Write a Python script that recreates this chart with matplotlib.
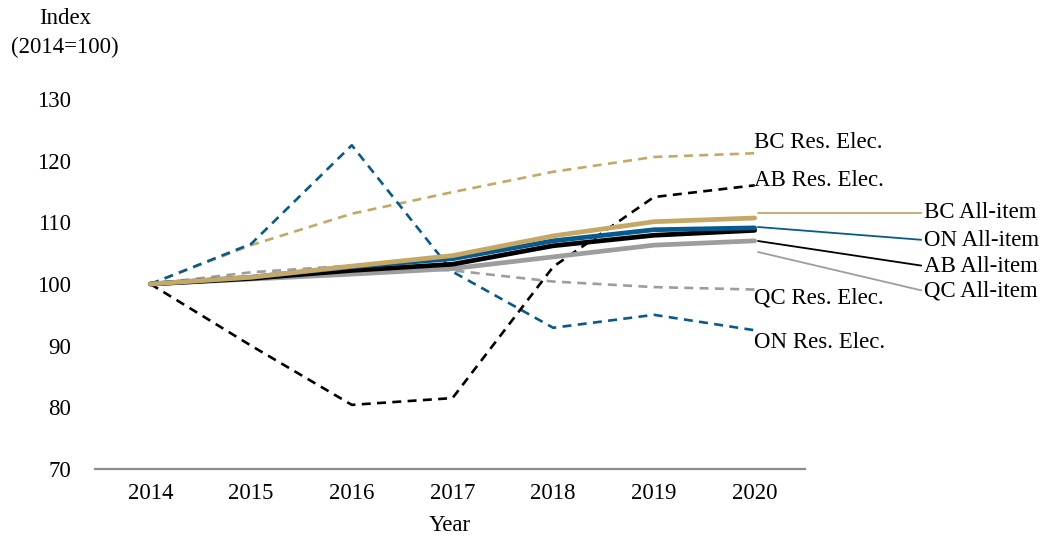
import matplotlib
matplotlib.use("Agg")
import matplotlib.pyplot as plt

# data (index, 2014=100)
years = [2014, 2015, 2016, 2017, 2018, 2019, 2020]
bc_res = [100, 106.3, 111.4, 114.9, 118.2, 120.6, 121.2]
ab_res = [100, 90.0, 80.4, 81.5, 102.8, 114.1, 116.0]
on_res = [100, 106.5, 122.5, 102.0, 92.9, 95.0, 92.5]
qc_res = [100, 101.9, 103.0, 102.2, 100.4, 99.5, 99.1]
bc_all = [100, 101.1, 102.9, 104.6, 107.8, 110.1, 110.7]
on_all = [100, 101.1, 102.8, 104.1, 107.0, 108.8, 109.1]
ab_all = [100, 100.9, 102.2, 103.2, 106.2, 107.9, 108.7]
qc_all = [100, 100.8, 101.6, 102.5, 104.4, 106.3, 107.0]

GOLD = "#c5a766"
BLUE = "#065a8e"
BLACK = "#000000"
GREY = "#9d9d9f"

plt.rcParams["font.family"] = ["Liberation Serif", "DejaVu Serif"]
plt.rcParams["font.size"] = 16.5

fig = plt.figure(figsize=(10.55, 5.37), dpi=100)
ax = fig.add_axes([95 / 1055, 68 / 537, 710 / 1055, 370 / 537])

dash = (0, (3.4, 2.4))
ax.plot(years, bc_res, color=GOLD, lw=1.9, ls=dash)
ax.plot(years, qc_res, color=GREY, lw=1.9, ls=dash)
ax.plot(years, on_res, color=BLUE, lw=1.9, ls=dash)
ax.plot(years, ab_res, color=BLACK, lw=1.9, ls=dash)
ax.plot(years, qc_all, color=GREY, lw=3.4, solid_capstyle="round")
ax.plot(years, ab_all, color=BLACK, lw=3.4, solid_capstyle="round")
ax.plot(years, on_all, color=BLUE, lw=3.4, solid_capstyle="round")
ax.plot(years, bc_all, color=GOLD, lw=3.4, solid_capstyle="round")

ax.set_xlim(2013.45, 2020.5)
ax.set_ylim(70, 130)
ax.set_xticks(years)
ax.set_yticks(range(70, 131, 10))
ax.tick_params(axis="both", length=0)
ax.tick_params(axis="y", pad=17)
ax.tick_params(axis="x", pad=10)
for s in ("top", "right", "left"):
    ax.spines[s].set_visible(False)
ax.spines["bottom"].set_color("#8c8c8c")
ax.spines["bottom"].set_linewidth(1.6)
ax.set_xlabel("Year", labelpad=8)

fig.text(65 / 1055, 1 - 18 / 537, "Index", ha="center", va="center")
fig.text(65 / 1055, 1 - 47 / 537, "(2014=100)", ha="center", va="center")

# direct labels for the dashed series
for label, ypix in [("BC Res. Elec.", 142), ("AB Res. Elec.", 180),
                    ("QC Res. Elec.", 298), ("ON Res. Elec.", 343)]:
    fig.text(754 / 1055, 1 - ypix / 537, label, ha="left", va="center")

# leader-line labels for the all-item series
leaders = [("BC All-item", GOLD, (758, 213), (924, 213)),
           ("ON All-item", BLUE, (758, 227), (924, 240)),
           ("AB All-item", BLACK, (758, 241), (924, 266)),
           ("QC All-item", GREY, (758, 252), (924, 291))]
for label, col, (x0, y0), (x1, y1) in leaders:
    ax.annotate(label, xy=(x0, 537 - y0), xycoords="figure pixels",
                xytext=(x1, 537 - y1), textcoords="figure pixels",
                ha="left", va="center", annotation_clip=False,
                arrowprops=dict(arrowstyle="-", color=col, lw=1.3,
                                shrinkA=0, shrinkB=0, relpos=(0, 0.5)))

fig.savefig("out.png", dpi=100)
